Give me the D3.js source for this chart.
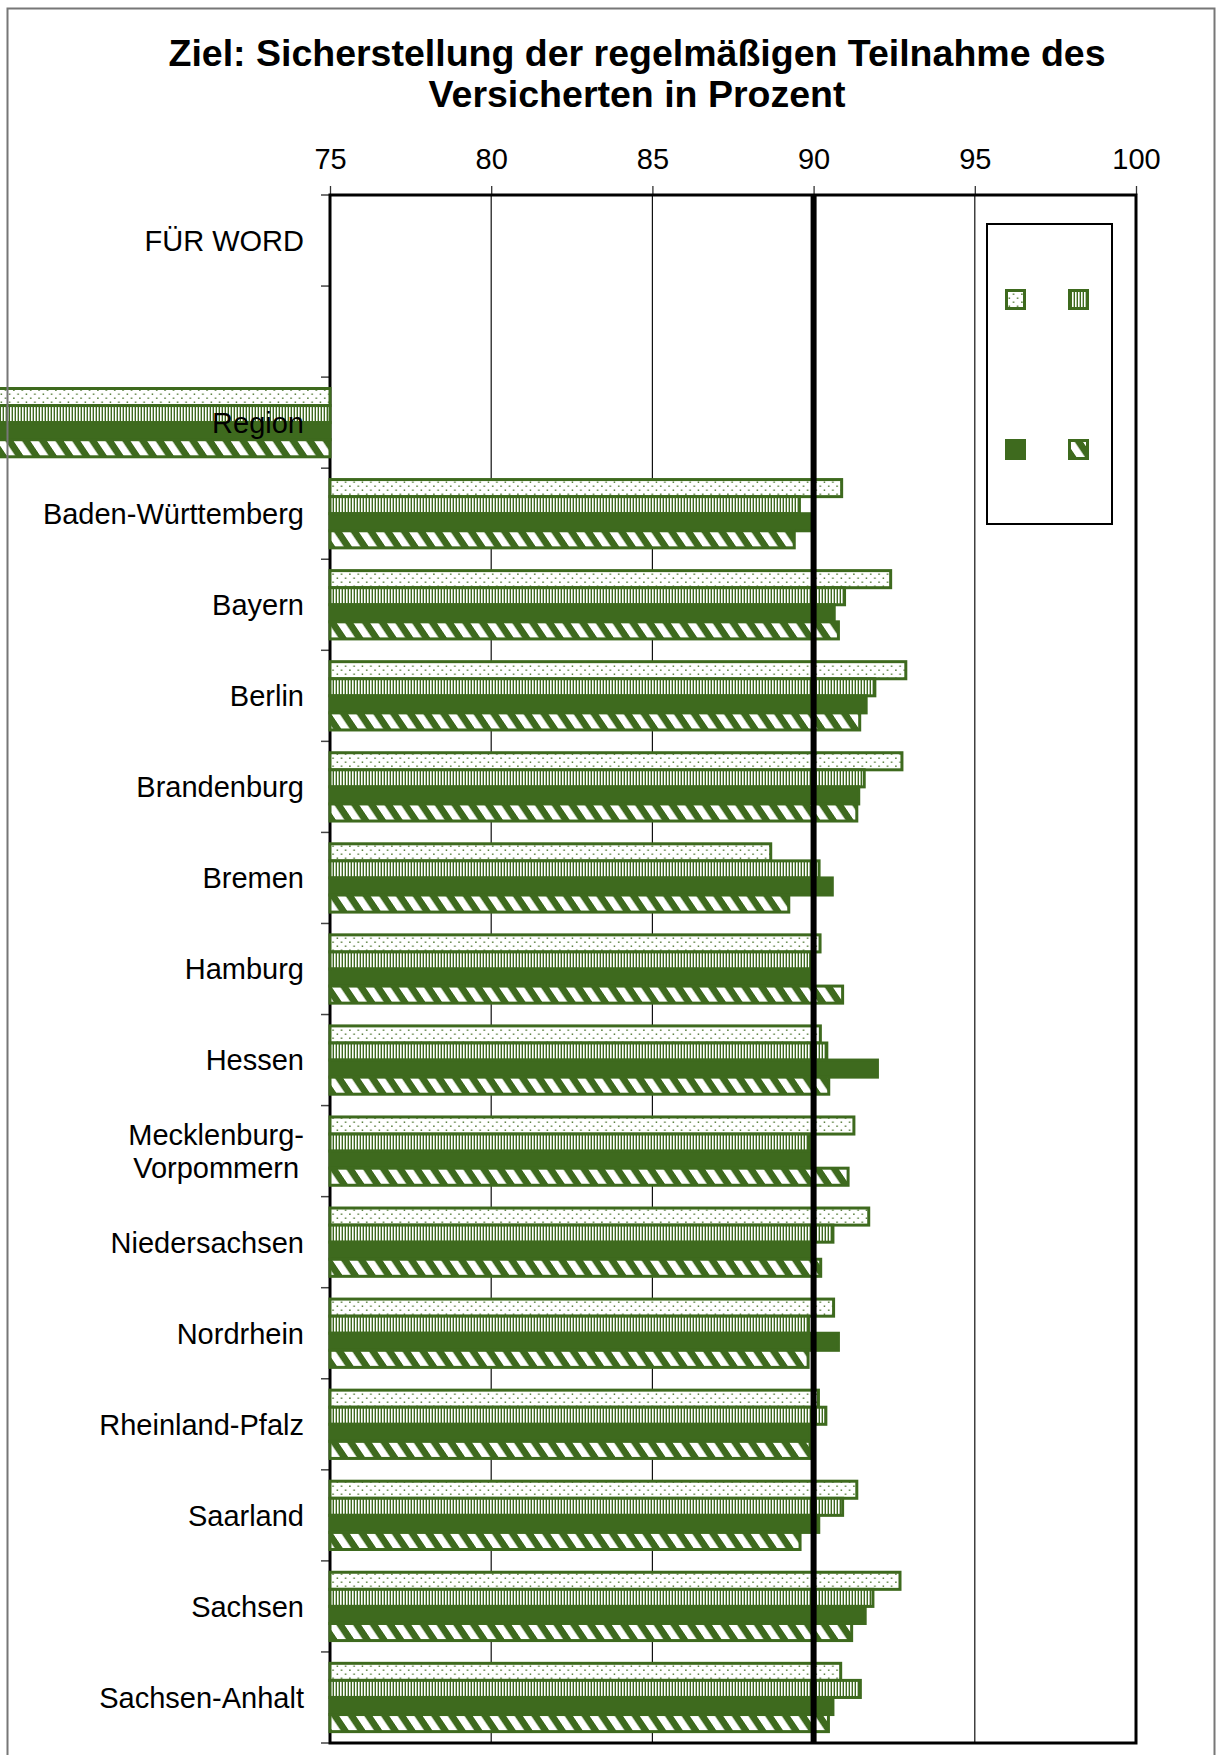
<!DOCTYPE html>
<html>
<head>
<meta charset="utf-8">
<script src="https://cdn.jsdelivr.net/npm/d3@7"></script>
<style>
  html, body { margin: 0; padding: 0; background: #fff; }
  svg { display: block; }
  text { font-family: "Liberation Sans", Arial, sans-serif; fill: #000; }
</style>
</head>
<body>
<svg id="chart" width="1217" height="1755"></svg>
<script>
// Categories along the vertical axis (top to bottom)
const categories = [
  "FÜR WORD", "", "Region",
  "Baden-Württemberg", "Bayern", "Berlin", "Brandenburg", "Bremen",
  "Hamburg", "Hessen", "Mecklenburg-\nVorpommern", "Niedersachsen",
  "Nordrhein", "Rheinland-Pfalz", "Saarland", "Sachsen", "Sachsen-Anhalt"
];

// Four series per category (percent); null = no bar
const seriesDotted   = [null, null, 0, 90.87, 92.39, 92.86, 92.74, 88.67, 90.20, 90.21, 91.25, 91.71, 90.62, 90.15, 91.34, 92.68, 90.84];
const seriesVertical = [null, null, 0, 89.56, 90.96, 91.90, 91.57, 90.17, 89.91, 90.41, 89.87, 90.60, 89.84, 90.38, 90.90, 91.84, 91.45];
const seriesSolid    = [null, null, 0, 90.00, 90.64, 91.63, 91.40, 90.58, 90.00, 91.98, 89.95, 90.00, 90.77, 89.90, 90.16, 91.60, 90.60];
const seriesHatched  = [null, null, 0, 89.40, 90.77, 91.43, 91.34, 89.23, 90.90, 90.47, 91.07, 90.22, 89.83, 89.89, 89.58, 91.18, 90.46];

const seriesKeys = ["dotted", "vertical", "solid", "hatched"];
const seriesValues = [seriesDotted, seriesVertical, seriesSolid, seriesHatched];

const xTicks = [75, 80, 85, 90, 95, 100];
const targetValue = 90;

const titleLines = ["Ziel: Sicherstellung der regelmäßigen Teilnahme des", "Versicherten in Prozent"];

const GREEN = "#3e6a1e";

const svg = d3.select("#chart");

// ---- fill patterns ----
const defs = svg.append("defs");

const pDot = defs.append("pattern").attr("id", "pat-dotted")
  .attr("patternUnits", "userSpaceOnUse").attr("width", 8.4).attr("height", 8);
pDot.append("rect").attr("width", 8.4).attr("height", 8).attr("fill", "#fff");
pDot.append("rect").attr("x", 0.6).attr("y", 1.5).attr("width", 1.4).attr("height", 1.4).attr("fill", GREEN);
pDot.append("rect").attr("x", 4.8).attr("y", 5.5).attr("width", 1.4).attr("height", 1.4).attr("fill", GREEN);

const pVert = defs.append("pattern").attr("id", "pat-vertical")
  .attr("patternUnits", "userSpaceOnUse").attr("width", 3).attr("height", 10);
pVert.append("rect").attr("width", 3).attr("height", 10).attr("fill", GREEN);
pVert.append("rect").attr("x", 1).attr("width", 1.6).attr("height", 10).attr("fill", "#fff");

const pHatch = defs.append("pattern").attr("id", "pat-hatched")
  .attr("patternUnits", "userSpaceOnUse").attr("width", 16.7).attr("height", 16.7)
  .attr("patternTransform", "skewX(34)");
pHatch.append("rect").attr("width", 16.7).attr("height", 16.7).attr("fill", GREEN);
pHatch.append("rect").attr("x", 0).attr("width", 8.5).attr("height", 16.7).attr("fill", "#fff");

const fills = {
  dotted: "url(#pat-dotted)",
  vertical: "url(#pat-vertical)",
  solid: GREEN,
  hatched: "url(#pat-hatched)"
};

// ---- layout ----
const plot = { left: 330, right: 1136, top: 195, bottom: 1743 };

const x = d3.scaleLinear().domain([75, 100]).range([plot.left, plot.right]);

const y0 = d3.scaleBand()
  .domain(categories.map((d, i) => i))
  .range([plot.top, plot.bottom])
  .paddingInner(0.25)
  .paddingOuter(0.125);

const y1 = d3.scaleBand().domain(seriesKeys).range([0, y0.bandwidth()]);

// ---- title ----
svg.append("g").selectAll("text").data(titleLines).join("text")
  .attr("x", 637)
  .attr("y", (d, i) => 66 + i * 41)
  .attr("text-anchor", "middle")
  .attr("font-size", 37.5)
  .attr("font-weight", "bold")
  .text(d => d);

// ---- gridlines ----
svg.append("g").selectAll("line").data(xTicks.slice(1, -1)).join("line")
  .attr("x1", d => x(d)).attr("x2", d => x(d))
  .attr("y1", plot.top).attr("y2", plot.bottom)
  .attr("stroke", "#111").attr("stroke-width", 1.2);

// ---- top axis with tick labels ----
const xAxis = d3.axisTop(x).tickValues(xTicks).tickSize(9).tickPadding(17).tickFormat(d3.format("d"));
const gx = svg.append("g").attr("transform", `translate(0,${plot.top})`).call(xAxis);
gx.select(".domain").remove();
gx.selectAll(".tick line").attr("stroke", "#333").attr("stroke-width", 1.3);
gx.selectAll(".tick text")
  .attr("font-size", 29)
  .attr("font-family", "'Liberation Sans', Arial, sans-serif")
  .attr("fill", "#000");

// ---- left axis ticks at category boundaries ----
const step = y0.step();
const boundaries = d3.range(categories.length + 1).map(i => plot.top + i * step);
svg.append("g").selectAll("line").data(boundaries).join("line")
  .attr("x1", plot.left - 9).attr("x2", plot.left)
  .attr("y1", d => d).attr("y2", d => d)
  .attr("stroke", "#444").attr("stroke-width", 1.5);

// ---- plot frame ----
svg.append("rect")
  .attr("x", plot.left).attr("y", plot.top)
  .attr("width", plot.right - plot.left).attr("height", plot.bottom - plot.top)
  .attr("fill", "none").attr("stroke", "#000").attr("stroke-width", 3);

// ---- category labels ----
const labelRight = 304;
const gLabels = svg.append("g");
categories.forEach((label, i) => {
  if (!label) return;
  const lines = label.split("\n");
  const cy = y0(i) + y0.bandwidth() / 2;
  const lineH = 33;
  if (lines.length === 1) {
    gLabels.append("text")
      .attr("x", labelRight).attr("y", cy)
      .attr("dy", "0.36em")
      .attr("text-anchor", "end")
      .attr("font-size", 29)
      .text(label);
  } else {
    const group = gLabels.append("g");
    const texts = lines.map((ln, k) => group.append("text")
      .attr("y", cy + (k - (lines.length - 1) / 2) * lineH)
      .attr("dy", "0.36em")
      .attr("text-anchor", "middle")
      .attr("font-size", 29)
      .text(ln));
    const maxW = d3.max(texts, t => t.node().getComputedTextLength());
    texts.forEach(t => t.attr("x", labelRight - maxW / 2));
  }
});

// ---- bars ----
const gBars = svg.append("g");
categories.forEach((cat, i) => {
  seriesKeys.forEach((key, s) => {
    const v = seriesValues[s][i];
    if (v === null) return;
    const xa = x(Math.min(v, 75));
    const xb = x(Math.max(v, 75));
    gBars.append("rect")
      .attr("x", xa)
      .attr("y", y0(i) + y1(key))
      .attr("width", xb - xa)
      .attr("height", y1.bandwidth())
      .attr("fill", fills[key])
      .attr("stroke", GREEN)
      .attr("stroke-width", 3);
  });
});

// Labels sit above the bars where they overlap (e.g. the region row)
gLabels.raise();

// ---- target line ----
svg.append("line")
  .attr("x1", x(targetValue)).attr("x2", x(targetValue))
  .attr("y1", plot.top).attr("y2", plot.bottom)
  .attr("stroke", "#000").attr("stroke-width", 6);

// ---- legend (symbols only) ----
const legend = svg.append("g");
legend.append("rect")
  .attr("x", 987).attr("y", 224).attr("width", 125).attr("height", 300)
  .attr("fill", "#fff").attr("stroke", "#000").attr("stroke-width", 2);
const legendPos = [[1005, 289], [1068, 289], [1005, 439], [1068, 439]];
seriesKeys.forEach((key, s) => {
  legend.append("rect")
    .attr("x", legendPos[s][0] + 1.5).attr("y", legendPos[s][1] + 1.5)
    .attr("width", 18).attr("height", 18)
    .attr("fill", fills[key])
    .attr("stroke", GREEN).attr("stroke-width", 3);
});

// ---- outer chart border ----
svg.append("rect")
  .attr("x", 7.5).attr("y", 8.5).attr("width", 1207).attr("height", 1800)
  .attr("fill", "none").attr("stroke", "#777").attr("stroke-width", 2);
</script>
</body>
</html>
